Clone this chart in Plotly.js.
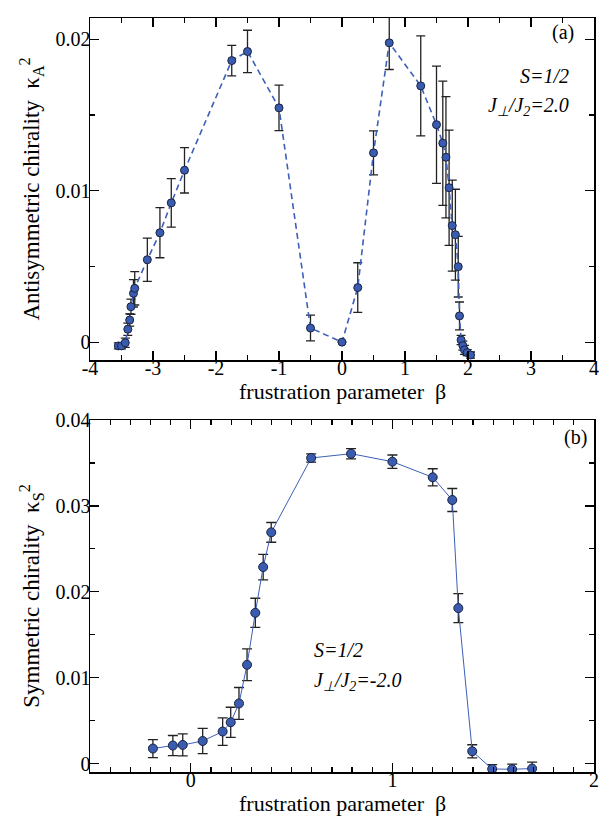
<!DOCTYPE html>
<html>
<head>
<meta charset="utf-8">
<script src="https://cdn.plot.ly/plotly-3.0.1.min.js"></script>
<style>html,body{margin:0;padding:0;background:#fff;}#plot{width:599px;height:817px;}</style>
</head>
<body>
<div id="plot"></div>
<script>
// Panel (a): antisymmetric chirality, J_perp/J2 = 2.0
const betaA = [-3.55, -3.5, -3.44, -3.4, -3.37, -3.35, -3.31, -3.29, -3.09, -2.89, -2.71, -2.5,
  -1.75, -1.5, -1.0, -0.5, 0.0, 0.25, 0.5, 0.75, 1.25, 1.5, 1.6, 1.65, 1.7, 1.75, 1.8, 1.845,
  1.865, 1.89, 1.918, 1.944, 1.987, 2.04];
const kappaA = [-0.00024, -0.00024, -0.00003, 0.00086, 0.00147, 0.00235, 0.00323, 0.00356, 0.00545, 0.00723, 0.0092, 0.01135,
  0.01859, 0.01919, 0.01547, 0.00094, 0.00001, 0.00361, 0.0125, 0.01976, 0.01692, 0.01436, 0.01314, 0.01221, 0.0102, 0.0077, 0.0071, 0.00499,
  0.00174, 0.00015, -0.00022, -0.0005, -0.00068, -0.00084];
const errA = [0.0002, 0.0002, 0.0003, 0.0004, 0.0004, 0.0005, 0.0009, 0.0011, 0.00143, 0.00165, 0.0016, 0.0015,
  0.00101, 0.0014, 0.0015, 0.00085, 0.0, 0.00164, 0.00145, 0.00176, 0.0033, 0.00387, 0.0041, 0.004, 0.0038, 0.003, 0.003, 0.002,
  0.00092, 0.0003, 0.0003, 0.0003, 0.0002, 0.0002];

// Panel (b): symmetric chirality, J_perp/J2 = -2.0
const betaS = [-0.188, -0.089, -0.04, 0.059, 0.158, 0.198, 0.239, 0.279, 0.32, 0.359, 0.399, 0.597, 0.795,
  1.0, 1.2, 1.297, 1.327, 1.396, 1.495, 1.594, 1.693];
const kappaS = [0.00175, 0.0021, 0.00217, 0.00263, 0.00373, 0.00481, 0.0070, 0.0115, 0.01755, 0.02288, 0.02692, 0.03558, 0.03608,
  0.03515, 0.03333, 0.03069, 0.0181, 0.00143, -0.00063, -0.00066, -0.00058];
const errS = [0.00105, 0.00117, 0.00128, 0.00146, 0.0016, 0.00175, 0.00186, 0.00185, 0.0017, 0.00148, 0.00115, 0.00048, 0.0006,
  0.00078, 0.001, 0.00134, 0.00169, 0.00076, 0.0005, 0.0006, 0.00075];

const xTicksA = [-4, -3, -2, -1, 0, 1, 2, 3, 4];
const xTickTextA = ['-4', '-3', '-2', '-1', '0', '1', '2', '3', '4'];
const yTicksA = [0, 0.01, 0.02];
const yTickTextA = ['0', '0.01', '0.02'];
const xTicksS = [0, 1, 2];
const xTickTextS = ['0', '1', '2'];
const yTicksS = [0, 0.01, 0.02, 0.03, 0.04];
const yTickTextS = ['0', '0.01', '0.02', '0.03', '0.04'];

const serif = 'Liberation Serif, Times New Roman, Times, serif';
const markerFill = '#3a5cb0';
const lineCol = '#3d5fb8';

const traces = [
  {
    x: betaA, y: kappaA, xaxis: 'x', yaxis: 'y', type: 'scatter', mode: 'lines+markers',
    line: {color: lineCol, width: 1.6, dash: '6px,4px'},
    marker: {size: 8, color: markerFill, line: {color: '#1a2240', width: 1}},
    error_y: {type: 'data', array: errA, visible: true, color: '#222', thickness: 1.3, width: 4.5},
    showlegend: false
  },
  {
    x: betaS, y: kappaS, xaxis: 'x2', yaxis: 'y2', type: 'scatter', mode: 'lines+markers',
    line: {color: lineCol, width: 1},
    marker: {size: 9, color: markerFill, line: {color: '#1a2240', width: 1}},
    error_y: {type: 'data', array: errS, visible: true, color: '#222', thickness: 1.3, width: 5},
    showlegend: false
  }
];

function axisBase(isX) {
  return {
    showline: true, linecolor: '#000', linewidth: 1.5, mirror: 'ticks',
    ticks: 'inside', ticklen: 9, tickwidth: 1.3, tickcolor: '#000',
    showgrid: false, zeroline: false,
    ticklabelstandoff: isX ? -11 : -6,
    tickfont: {family: serif, size: 20, color: '#000'}
  };
}

const titleFont = {family: serif, size: 22, color: '#000'};
const textFont = {family: serif, size: 20, color: '#000'};

const layout = {
  width: 599, height: 817,
  margin: {l: 90, r: 5, t: 18, b: 45},
  paper_bgcolor: '#fff', plot_bgcolor: '#fff',
  font: {family: serif},
  xaxis: Object.assign(axisBase(true), {
    domain: [0, 1], anchor: 'y', range: [-4, 4],
    tickmode: 'array', tickvals: xTicksA, ticktext: xTickTextA,
    minor: {dtick: 0.5, tick0: 0, ticks: 'inside', ticklen: 5, tickwidth: 1.2, tickcolor: '#000'}
  }),
  yaxis: Object.assign(axisBase(false), {
    domain: [0.5464, 1], anchor: 'x', range: [-0.00117, 0.0214],
    tickmode: 'array', tickvals: yTicksA, ticktext: yTickTextA,
    minor: {dtick: 0.005, tick0: 0, ticks: 'inside', ticklen: 5, tickwidth: 1.2, tickcolor: '#000'},
    title: {text: 'Antisymmetric chirality  κ<sub>A</sub><sup>2</sup>', font: {family: serif, size: 23, color: '#000'}, standoff: 9}
  }),
  xaxis2: Object.assign(axisBase(true), {
    domain: [0, 1], anchor: 'y2', range: [-0.5, 2],
    tickmode: 'array', tickvals: xTicksS, ticktext: xTickTextS,
    minor: {dtick: 0.1, tick0: 0, ticks: 'inside', ticklen: 5, tickwidth: 1.2, tickcolor: '#000'}
  }),
  yaxis2: Object.assign(axisBase(false), {
    domain: [0, 0.4668], anchor: 'x2', range: [-0.00098, 0.04],
    tickmode: 'array', tickvals: yTicksS, ticktext: yTickTextS,
    minor: {dtick: 0.005, tick0: 0, ticks: 'inside', ticklen: 5, tickwidth: 1.2, tickcolor: '#000'},
    title: {text: 'Symmetric chirality  κ<sub>S</sub><sup>2</sup>', font: {family: serif, size: 23, color: '#000'}, standoff: 9}
  }),
  annotations: [
    {text: 'frustration parameter  β', xref: 'paper', yref: 'paper', x: 0.5, y: 0.5046, xanchor: 'center', yanchor: 'middle', showarrow: false, font: titleFont},
    {text: 'frustration parameter  β', xref: 'paper', yref: 'paper', x: 0.5, y: -0.0415, xanchor: 'center', yanchor: 'middle', showarrow: false, font: titleFont},
    {text: '(a)', xref: 'paper', yref: 'paper', x: 0.965, y: 0.9814, xanchor: 'right', yanchor: 'middle', showarrow: false, font: textFont},
    {text: '<i>S=1/2</i>', xref: 'paper', yref: 'paper', x: 0.955, y: 0.9231, xanchor: 'right', yanchor: 'middle', showarrow: false, font: textFont},
    {text: '<i>J<sub>⊥</sub>/J<sub>2</sub>=2.0</i>', xref: 'paper', yref: 'paper', x: 0.955, y: 0.883, xanchor: 'right', yanchor: 'middle', showarrow: false, font: textFont},
    {text: '(b)', xref: 'paper', yref: 'paper', x: 0.99, y: 0.443, xanchor: 'right', yanchor: 'middle', showarrow: false, font: textFont},
    {text: '<i>S=1/2</i>', xref: 'paper', yref: 'paper', x: 0.44, y: 0.162, xanchor: 'left', yanchor: 'middle', showarrow: false, font: textFont},
    {text: '<i>J<sub>⊥</sub>/J<sub>2</sub>=-2.0</i>', xref: 'paper', yref: 'paper', x: 0.44, y: 0.12, xanchor: 'left', yanchor: 'middle', showarrow: false, font: textFont}
  ]
};

Plotly.newPlot('plot', traces, layout, {staticPlot: true, displayModeBar: false});
</script>
</body>
</html>
